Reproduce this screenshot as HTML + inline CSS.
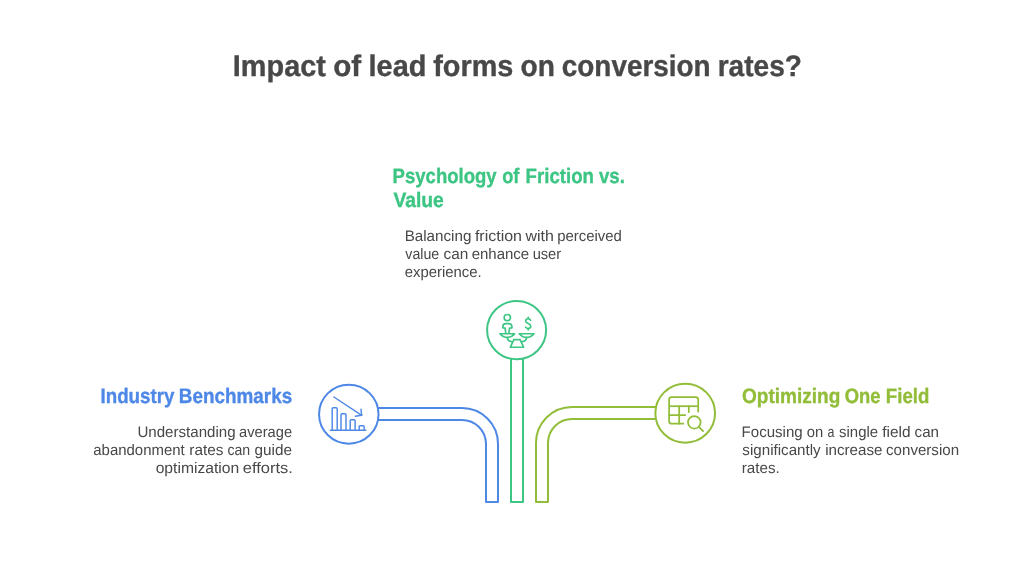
<!DOCTYPE html>
<html lang="en">
<head>
<meta charset="utf-8">
<title>Impact of lead forms on conversion rates?</title>
<style>
html,body{margin:0;padding:0;background:#fff;}
body{width:1034px;height:584px;overflow:hidden;}
svg{display:block;will-change:transform;}
text{font-family:"Liberation Sans",Arial,sans-serif;text-rendering:geometricPrecision;}
</style>
</head>
<body>
<svg width="1034" height="584" viewBox="0 0 1034 584">
<rect width="1034" height="584" fill="#ffffff"/>

<!-- green stem -->
<g fill="none" stroke="#3cc583" stroke-width="2" stroke-linejoin="round" stroke-linecap="round">
<path d="M511 358.5V502H523V358.5"/>
<ellipse cx="516.6" cy="330.1" rx="29.5" ry="29.1" fill="#fff"/>
</g>
<!-- blue pipe -->
<g fill="none" stroke="#4e88e7" stroke-width="2" stroke-linejoin="round" stroke-linecap="round">
<path d="M378.5 408H462A36 36 0 0 1 498 444V502H486V444A24 24 0 0 0 462 420H378.5"/>
<ellipse cx="348.8" cy="414.2" rx="29.75" ry="29.5" fill="#fff"/>
</g>
<!-- olive pipe -->
<g fill="none" stroke="#92bd39" stroke-width="2" stroke-linejoin="round" stroke-linecap="round">
<path d="M656 407H572A36 36 0 0 0 536 443V502H548V443A24 24 0 0 1 572 419H656"/>
<ellipse cx="685.2" cy="413.2" rx="29.85" ry="29.45" fill="#fff"/>
</g>

<!-- icon: declining bar chart -->
<g fill="none" stroke="#4e88e7" stroke-width="1.45" stroke-linecap="round" stroke-linejoin="round">
<path d="M330.4 430.3H365.8"/>
<path d="M332.2 430.3V408.7a1 1 0 0 1 1-1h3a1 1 0 0 1 1 1V430.3"/>
<path d="M341 430.3V414.8a1 1 0 0 1 1-1h3a1 1 0 0 1 1 1V430.3"/>
<path d="M350.2 430.3V420.8a1 1 0 0 1 1-1h2.9a1 1 0 0 1 1 1V430.3"/>
<path d="M359.2 430.3V426.6a0.8 0.8 0 0 1 .8-.8h3.3a0.8 0.8 0 0 1 .8 .8V430.3"/>
<path d="M333.9 397L361.7 415.3"/>
<path d="M361 409.3L361.7 415.3L355.3 416.2"/>
</g>
<!-- icon: balance scale with person and dollar -->
<g fill="none" stroke="#3cc583" stroke-width="1.65" stroke-linecap="round" stroke-linejoin="round">
<circle cx="507.3" cy="317.6" r="3.15"/>
<path d="M505.8 333.2L505.1 328H502.8V326.8a3.2 3.2 0 0 1 3.2-3.2h2.7a3.2 3.2 0 0 1 3.2 3.2V328H509.6L508.9 333.2"/>
<path d="M500 333.7H514.7Q511.6 337.4 507.3 337.4Q503 337.4 500 333.7Z"/>
<path d="M519.3 333.7H534Q530.9 337.4 526.6 337.4Q522.3 337.4 519.3 333.7Z"/>
<path d="M507.3 337.6C507.6 340 509.3 341.4 511.6 341.6"/>
<path d="M526.6 337.6C526.3 340 524.6 341.4 522.3 341.6"/>
<path d="M513.9 339.6H520.1L523.6 347.2H510.4Z"/>
<path d="M530.6 320.2C530.2 319.2 529.3 318.7 528.2 318.7C526.7 318.7 525.7 319.6 525.7 320.9C525.7 322.3 526.7 322.9 528.2 323.5C529.8 324.1 530.8 324.8 530.8 326.3C530.8 327.6 529.7 328.5 528.2 328.5C527 328.5 526.1 328 525.6 327.1"/>
<path d="M528.2 317.4V318.7M528.2 328.5V329.9"/>
</g>
<!-- icon: table search -->
<g fill="none" stroke="#92bd39" stroke-width="1.75" stroke-linecap="round" stroke-linejoin="round">
<path d="M683.3 423.7H671.6a2.5 2.5 0 0 1 -2.5 -2.5V399.6a2.5 2.5 0 0 1 2.5 -2.5H695.7a2.5 2.5 0 0 1 2.5 2.5V411.7"/>
<path d="M669.4 406.2H697.9" stroke-linecap="butt"/>
<path d="M669.4 415.2H685.2"/>
<path d="M679.2 406.2V423.7"/>
<path d="M688.8 406.2V412.1"/>
<circle cx="694.3" cy="422.3" r="6.3"/>
<path d="M698.9 426.8L703.1 431.1"/>
</g>


<text y="75.8" font-size="29.8" font-weight="700" fill="#484848" stroke="#484848" stroke-width="0.35" stroke-linejoin="round"><tspan x="232.86" textLength="92.99" lengthAdjust="spacingAndGlyphs">Impact</tspan> <tspan x="333.22" textLength="27.92" lengthAdjust="spacingAndGlyphs">of</tspan> <tspan x="368.50" textLength="57.89" lengthAdjust="spacingAndGlyphs">lead</tspan> <tspan x="433.22" textLength="80.11" lengthAdjust="spacingAndGlyphs">forms</tspan> <tspan x="520.48" textLength="34.36" lengthAdjust="spacingAndGlyphs">on</tspan> <tspan x="561.79" textLength="148.85" lengthAdjust="spacingAndGlyphs">conversion</tspan> <tspan x="717.68" textLength="84.22" lengthAdjust="spacingAndGlyphs">rates?</tspan></text>
<text y="182.8" font-size="20.9" font-weight="700" fill="#3cc583" stroke="#3cc583" stroke-width="0.35" stroke-linejoin="round"><tspan x="392.58" textLength="104.12" lengthAdjust="spacingAndGlyphs">Psychology</tspan> <tspan x="502.19" textLength="17.19" lengthAdjust="spacingAndGlyphs">of</tspan> <tspan x="525.57" textLength="68.40" lengthAdjust="spacingAndGlyphs">Friction</tspan> <tspan x="598.94" textLength="25.93" lengthAdjust="spacingAndGlyphs">vs.</tspan></text>
<text y="206.8" font-size="20.9" font-weight="700" fill="#3cc583" stroke="#3cc583" stroke-width="0.35" stroke-linejoin="round"><tspan x="393.38" textLength="50.39" lengthAdjust="spacingAndGlyphs">Value</tspan></text>
<text y="241" font-size="15.3" font-weight="400" fill="#484848"><tspan x="404.66" textLength="66.75" lengthAdjust="spacingAndGlyphs">Balancing</tspan> <tspan x="474.90" textLength="47.14" lengthAdjust="spacingAndGlyphs">friction</tspan> <tspan x="525.50" textLength="28.36" lengthAdjust="spacingAndGlyphs">with</tspan> <tspan x="557.23" textLength="64.68" lengthAdjust="spacingAndGlyphs">perceived</tspan></text>
<text y="259" font-size="15.3" font-weight="400" fill="#484848"><tspan x="405.34" textLength="33.91" lengthAdjust="spacingAndGlyphs">value</tspan> <tspan x="443.57" textLength="24.82" lengthAdjust="spacingAndGlyphs">can</tspan> <tspan x="471.69" textLength="57.50" lengthAdjust="spacingAndGlyphs">enhance</tspan> <tspan x="532.64" textLength="28.55" lengthAdjust="spacingAndGlyphs">user</tspan></text>
<text y="277" font-size="15.3" font-weight="400" fill="#484848"><tspan x="404.79" textLength="76.92" lengthAdjust="spacingAndGlyphs">experience.</tspan></text>
<text y="402.8" font-size="20.9" font-weight="700" fill="#4e88e7" stroke="#4e88e7" stroke-width="0.35" stroke-linejoin="round"><tspan x="100.47" textLength="73.95" lengthAdjust="spacingAndGlyphs">Industry</tspan> <tspan x="178.86" textLength="113.35" lengthAdjust="spacingAndGlyphs">Benchmarks</tspan></text>
<text y="437" font-size="15.3" font-weight="400" fill="#484848"><tspan x="137.43" textLength="98.17" lengthAdjust="spacingAndGlyphs">Understanding</tspan> <tspan x="239.10" textLength="53.00" lengthAdjust="spacingAndGlyphs">average</tspan></text>
<text y="455" font-size="15.3" font-weight="400" fill="#484848"><tspan x="93.29" textLength="91.45" lengthAdjust="spacingAndGlyphs">abandonment</tspan> <tspan x="189.30" textLength="34.12" lengthAdjust="spacingAndGlyphs">rates</tspan> <tspan x="227.42" textLength="22.78" lengthAdjust="spacingAndGlyphs">can</tspan> <tspan x="254.57" textLength="37.51" lengthAdjust="spacingAndGlyphs">guide</tspan></text>
<text y="473" font-size="15.3" font-weight="400" fill="#484848"><tspan x="155.66" textLength="83.58" lengthAdjust="spacingAndGlyphs">optimization</tspan> <tspan x="242.83" textLength="50.04" lengthAdjust="spacingAndGlyphs">efforts.</tspan></text>
<text y="402.7" font-size="20.9" font-weight="700" fill="#92bd39" stroke="#92bd39" stroke-width="0.35" stroke-linejoin="round"><tspan x="742.00" textLength="98.38" lengthAdjust="spacingAndGlyphs">Optimizing</tspan> <tspan x="844.63" textLength="35.75" lengthAdjust="spacingAndGlyphs">One</tspan> <tspan x="885.87" textLength="43.47" lengthAdjust="spacingAndGlyphs">Field</tspan></text>
<text y="437" font-size="15.3" font-weight="400" fill="#484848"><tspan x="741.57" textLength="61.13" lengthAdjust="spacingAndGlyphs">Focusing</tspan> <tspan x="806.69" textLength="16.49" lengthAdjust="spacingAndGlyphs">on</tspan> <tspan x="827.49" textLength="6.92" lengthAdjust="spacingAndGlyphs">a</tspan> <tspan x="839.07" textLength="39.04" lengthAdjust="spacingAndGlyphs">single</tspan> <tspan x="882.31" textLength="28.30" lengthAdjust="spacingAndGlyphs">field</tspan> <tspan x="914.58" textLength="24.49" lengthAdjust="spacingAndGlyphs">can</tspan></text>
<text y="455" font-size="15.3" font-weight="400" fill="#484848"><tspan x="742.37" textLength="78.26" lengthAdjust="spacingAndGlyphs">significantly</tspan> <tspan x="825.21" textLength="57.29" lengthAdjust="spacingAndGlyphs">increase</tspan> <tspan x="886.08" textLength="72.99" lengthAdjust="spacingAndGlyphs">conversion</tspan></text>
<text y="473" font-size="15.3" font-weight="400" fill="#484848"><tspan x="741.81" textLength="37.97" lengthAdjust="spacingAndGlyphs">rates.</tspan></text>
</svg>
</body>
</html>
